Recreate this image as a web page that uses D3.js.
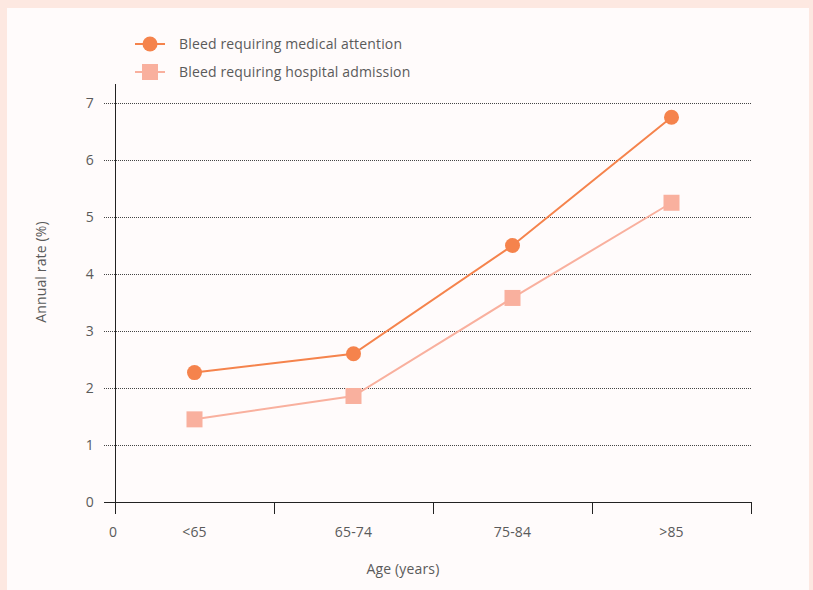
<!DOCTYPE html>
<html>
<head>
<meta charset="utf-8">
<script src="https://cdn.jsdelivr.net/npm/d3@7"></script>
<style>
  html, body { margin: 0; padding: 0; background: #fde8e1; }
  svg { display: block; }
  text { font-family: "Open Sans", sans-serif; fill: #5a5a5a; letter-spacing: 0.15px; }
</style>
</head>
<body>
<svg id="chart" width="813" height="590"></svg>
<script>
// Annual bleeding rate by age group
const ageGroups = ["<65", "65-74", "75-84", ">85"];
const medicalAttention = [2.27, 2.6, 4.5, 6.75];
const hospitalAdmission = [1.45, 1.86, 3.58, 5.25];
const yTicks = [0, 1, 2, 3, 4, 5, 6, 7];
const seriesNames = ["Bleed requiring medical attention", "Bleed requiring hospital admission"];
const seriesColors = ["#f5834c", "#f9b09e"];

const svg = d3.select("#chart");

// panel
svg.append("rect").attr("x", 7).attr("y", 8).attr("width", 802).attr("height", 600)
  .attr("fill", "#fffbfb");

const x = d3.scaleLinear().domain([0, ageGroups.length]).range([115, 751]);
const y = d3.scaleLinear().domain([0, 7]).range([502, 103]);

// dotted gridlines
svg.append("g").selectAll("line").data(yTicks.filter(d => d > 0)).join("line")
  .attr("x1", 104).attr("x2", 752)
  .attr("y1", d => y(d) + 0.5).attr("y2", d => y(d) + 0.5)
  .attr("stroke", "#444").attr("stroke-width", 1).attr("stroke-dasharray", "1,1");

// y tick labels
svg.append("g").selectAll("text").data(yTicks).join("text")
  .attr("x", 94).attr("y", d => y(d)).attr("dy", "0.35em")
  .attr("text-anchor", "end").attr("font-size", 14)
  .text(d => d);

// axes lines
svg.append("line").attr("x1", 115.5).attr("x2", 115.5).attr("y1", 84).attr("y2", 514)
  .attr("stroke", "#222").attr("stroke-width", 1);
svg.append("line").attr("x1", 104).attr("x2", 751).attr("y1", y(0) + 0.5).attr("y2", y(0) + 0.5)
  .attr("stroke", "#222").attr("stroke-width", 1);

// x ticks at band boundaries
svg.append("g").selectAll("line").data(d3.range(1, ageGroups.length + 1)).join("line")
  .attr("x1", d => Math.round(x(d)) + 0.5).attr("x2", d => Math.round(x(d)) + 0.5)
  .attr("y1", y(0)).attr("y2", 514)
  .attr("stroke", "#222").attr("stroke-width", 1);

// x labels
svg.append("text").attr("x", x(0) - 2).attr("y", 537).attr("text-anchor", "middle")
  .attr("font-size", 14).text("0");
svg.append("g").selectAll("text").data(ageGroups).join("text")
  .attr("x", (d, i) => x(i + 0.5)).attr("y", 537).attr("text-anchor", "middle")
  .attr("font-size", 14).text(d => d);

// axis titles
svg.append("text").attr("x", 403).attr("y", 574).attr("text-anchor", "middle")
  .attr("font-size", 14).text("Age (years)");
svg.append("text").attr("transform", "translate(46,272) rotate(-90)")
  .attr("text-anchor", "middle").attr("font-size", 14).text("Annual rate (%)");

// series
const line = d3.line().x((d, i) => x(i + 0.5)).y(d => y(d));
[medicalAttention, hospitalAdmission].forEach((vals, k) => {
  svg.append("path").datum(vals).attr("d", line)
    .attr("fill", "none").attr("stroke", seriesColors[k]).attr("stroke-width", 2);
});
svg.append("g").selectAll("circle").data(medicalAttention).join("circle")
  .attr("cx", (d, i) => x(i + 0.5)).attr("cy", d => y(d)).attr("r", 7.5)
  .attr("fill", seriesColors[0]);
svg.append("g").selectAll("rect").data(hospitalAdmission).join("rect")
  .attr("x", (d, i) => x(i + 0.5) - 8).attr("y", d => y(d) - 8)
  .attr("width", 16).attr("height", 16).attr("fill", seriesColors[1]);

// legend
const legend = svg.append("g");
seriesNames.forEach((name, k) => {
  const ly = 44 + k * 28;
  legend.append("line").attr("x1", 135).attr("x2", 165).attr("y1", ly).attr("y2", ly)
    .attr("stroke", seriesColors[k]).attr("stroke-width", 2);
  if (k === 0) {
    legend.append("circle").attr("cx", 150).attr("cy", ly).attr("r", 7.5).attr("fill", seriesColors[k]);
  } else {
    legend.append("rect").attr("x", 142).attr("y", ly - 8).attr("width", 16).attr("height", 16)
      .attr("fill", seriesColors[k]);
  }
  legend.append("text").attr("x", 179).attr("y", ly).attr("dy", "0.35em")
    .attr("font-size", 14).text(name);
});
</script>
</body>
</html>
